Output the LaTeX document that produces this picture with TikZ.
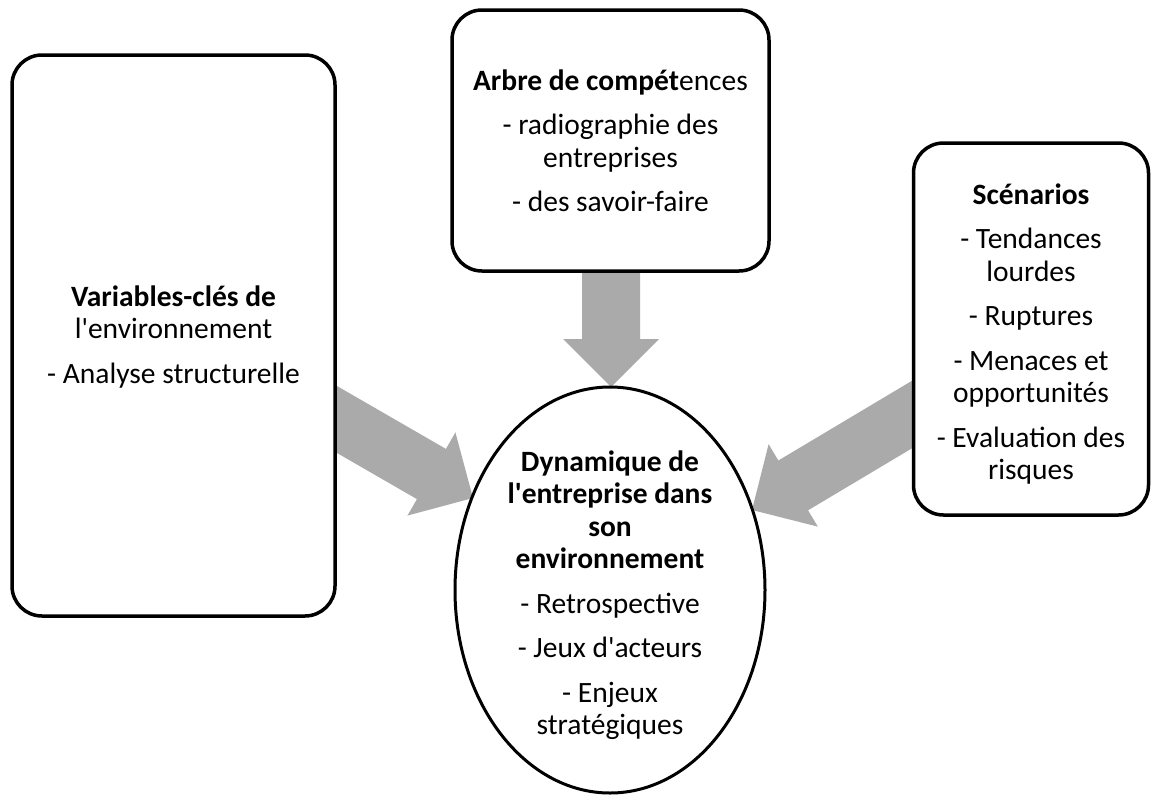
\documentclass[tikz,border=0pt]{standalone}
\usepackage{fontspec}
\setmainfont{Carlito}
\usetikzlibrary{calc}
\definecolor{arrgray}{RGB}{170,170,170}
\tikzset{
  boxstyle/.style={draw=black, line width=3.5pt, rounded corners=30pt, fill=white, inner sep=0pt},
  txt/.style={align=center, font=\fontsize{29.5}{32.5}\selectfont, inner sep=0pt},
  blockarr/.style={fill=arrgray, draw=none},
}
\newcommand{\blockarrow}[3]{%
  \coordinate (#3h) at ($(#2)!48pt!(#1)$);
  \fill[blockarr] ($(#1)!29pt!90:(#2)$) -- ($(#3h)!29pt!-90:(#1)$) -- ($(#3h)!48pt!-90:(#1)$) -- (#2)
    -- ($(#3h)!48pt!90:(#1)$) -- ($(#3h)!29pt!90:(#1)$) -- ($(#1)!29pt!-90:(#2)$) -- cycle;
}
\newcommand{\ap}{\textquotesingle}
\begin{document}
\begin{tikzpicture}[x=1pt,y=-1pt]
\useasboundingbox (0,0) rectangle (1151,795);
% arrow end points (tails start inside the boxes, hidden by their fill)
\coordinate (ltail) at (311,404.5);
\coordinate (ltip) at (473,498);
\coordinate (ttail) at (611,250);
\coordinate (ttip) at (611,387);
\coordinate (rtail) at (939,398.4);
\coordinate (rtip) at (752,510);
\blockarrow{ltail}{ltip}{la}
\blockarrow{ttail}{ttip}{ta}
\blockarrow{rtail}{rtip}{ra}
% boxes
\node[boxstyle, minimum width=323pt, minimum height=561pt] (left) at (173.5,335.5) {};
\node[boxstyle, minimum width=317pt, minimum height=261pt] (top) at (610.5,140.5) {};
\node[boxstyle, minimum width=235pt, minimum height=372pt] (right) at (1031,329) {};
\draw[line width=3pt] (610,590) ellipse [x radius=155, y radius=203];
\coordinate (ell) at (610,590);
% texts
\node[txt] (lt) at (173.5,337) {\textbf{Variables-clés de}\\ l\ap environnement\\[12pt] - Analyse structurelle};
\node[txt] (tt) at (610.5,141) {\textbf{Arbre de compét}ences\\[12pt] - radiographie des\\ entreprises\\[12pt] - des savoir-faire};
\node[txt] (rt) at (1031,334) {\textbf{Scénarios}\\[12pt] - Tendances\\ lourdes\\[12pt] - Ruptures\\[12pt] - Menaces et\\ opportunités\\[12pt] - Evaluation des\\ risques};
\node[txt] (et) at (610,595) {\textbf{Dynamique de}\\ \textbf{l\ap entreprise dans}\\ \textbf{son}\\ \textbf{environnement}\\[12pt] - Retrospective\\[12pt] - Jeux d\ap acteurs\\[12pt] - Enjeux\\ stratégiques};
\end{tikzpicture}
\end{document}
